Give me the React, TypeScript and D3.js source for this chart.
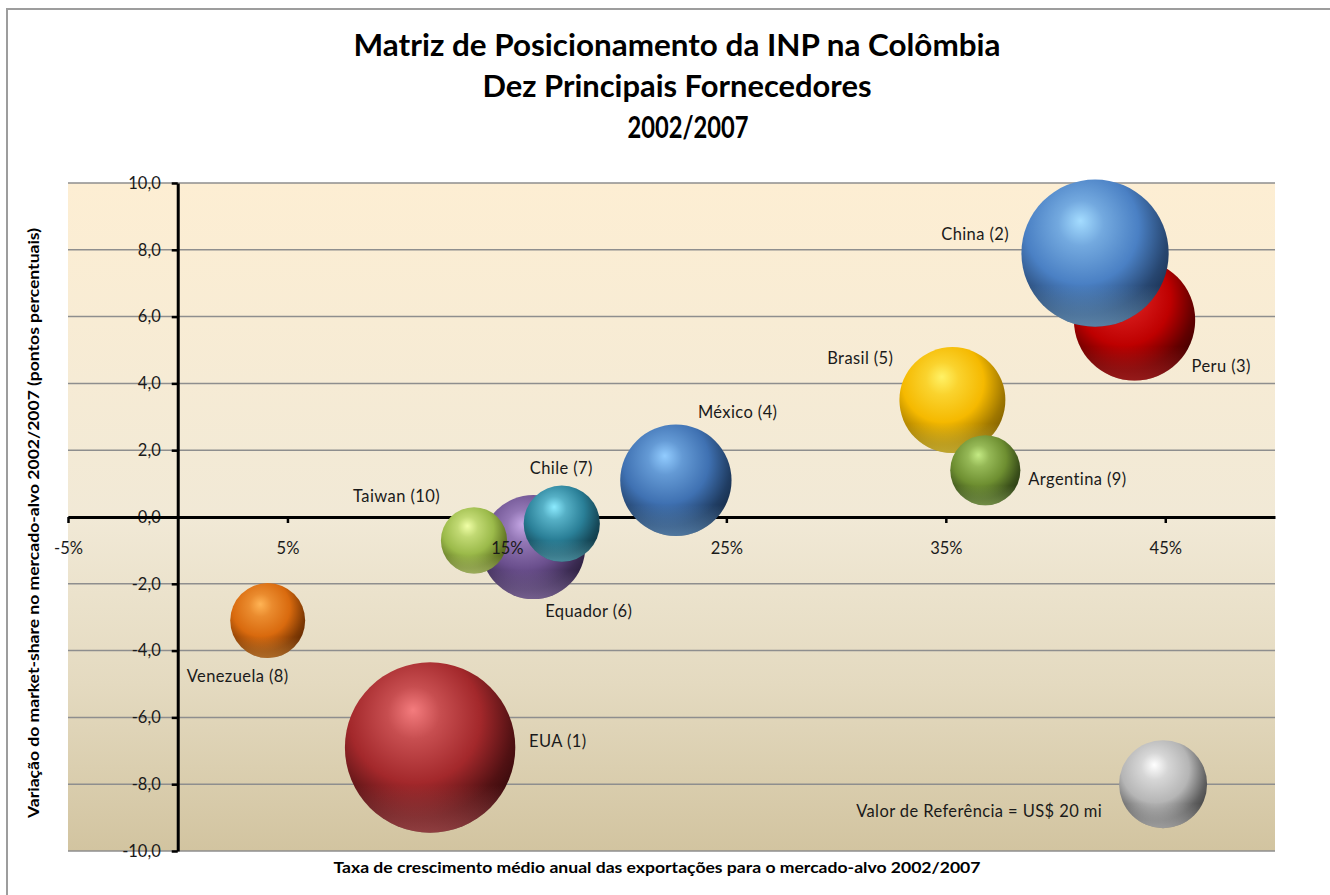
import { useEffect, useRef } from 'react';
import * as d3 from 'd3';

// Data (draw order follows array order)
const countries = ['EUA (1)', 'Peru (3)', 'México (4)', 'Brasil (5)', 'Equador (6)', 'China (2)', 'Chile (7)', 'Venezuela (8)', 'Argentina (9)', 'Taiwan (10)'];
const growthRate = [11.5, 43.6, 22.7, 35.3, 16.2, 41.8, 17.5, 4.1, 36.8, 13.5];
const shareChange = [-6.9, 5.9, 1.1, 3.5, -0.9, 7.9, -0.2, -3.1, 1.4, -0.7];
const exportValue = [75, 38, 32, 29, 28, 56, 15, 14.5, 12.7, 11.3];

const refLabel = 'Valor de Referência = US$ 20 mi';
const refGrowth = 44.9;
const refShare = -8.0;
const refValue = 20;

const xTicks = [-5, 5, 15, 25, 35, 45];
const yTicks = [-10, -8, -6, -4, -2, 0, 2, 4, 6, 8, 10];

const titleLines = ['Matriz de Posicionamento da INP na Colômbia', 'Dez Principais Fornecedores', '2002/2007'];
const xTitle = 'Taxa de crescimento médio anual das exportações para o mercado-alvo 2002/2007';
const yTitle = 'Variação do market-share no mercado-alvo 2002/2007 (pontos percentuais)';

// Styles
const sphereColors = [
  { base: '#A3282B', light: '#F47C7E', dark: '#2E0709' },
  { base: '#BE0000', light: '#F03A3A', dark: '#3A0000' },
  { base: '#3F71B2', light: '#92CCFF', dark: '#132741' },
  { base: '#F5B900', light: '#FFF266', dark: '#7A5A00' },
  { base: '#6A4F8D', light: '#C6A8E6', dark: '#271B38' },
  { base: '#4A80C4', light: '#A4DCFF', dark: '#182D4C' },
  { base: '#2A7F97', light: '#8CEBFF', dark: '#0D323E' },
  { base: '#D96A0E', light: '#FFB455', dark: '#5A2500' },
  { base: '#6E8F31', light: '#C4EA84', dark: '#243410' },
  { base: '#9BBA4A', light: '#F0FFA6', dark: '#4C5C16' }
];
const refColor = { base: '#B5B5B5', light: '#FFFFFF', dark: '#3C3C3C' };

// label offset from bubble centre: [dx, dy, anchor]
const labelOffsets = [
  [99, -6, 'start'],
  [57, 46, 'start'],
  [22, -68, 'start'],
  [-59, -42, 'end'],
  [12, 64, 'start'],
  [-86, -19, 'end'],
  [-32, -55, 'start'],
  [-81, 56, 'start'],
  [43, 9, 'start'],
  [-34, -44, 'end']
];
const refOffset = [-61, 27, 'end'];

const FONT = "Lato, 'Open Sans', sans-serif";

const BubbleChart = () => {
  const svgRef = useRef(null);

  useEffect(() => {
    const svg = d3.select(svgRef.current);
    svg.selectAll('*').remove();

    const width = 1330;
    const height = 895;
    const plot = { left: 68, right: 1275, top: 183, bottom: 851 };

    svg.attr('width', width).attr('height', height);

    const x = d3.scaleLinear().domain([-5, 50]).range([plot.left, plot.right]);
    const y = d3.scaleLinear().domain([-10, 10]).range([plot.bottom, plot.top]);
    const r = d3.scaleSqrt().domain([0, refValue]).range([0, 44]);

    const defs = svg.append('defs');

    // chart background + border
    svg.append('rect').attr('width', width).attr('height', height).attr('fill', '#ffffff');
    svg
      .append('rect')
      .attr('x', 7)
      .attr('y', 9)
      .attr('width', width + 20)
      .attr('height', height + 20)
      .attr('fill', 'none')
      .attr('stroke', '#9d9d9d')
      .attr('stroke-width', 2);

    // plot background gradient
    const bg = defs
      .append('linearGradient')
      .attr('id', 'plot-bg')
      .attr('x1', 0).attr('y1', 0).attr('x2', 0).attr('y2', 1);
    bg.append('stop').attr('offset', '0%').attr('stop-color', '#FDEED3');
    bg.append('stop').attr('offset', '50%').attr('stop-color', '#F1E9D6');
    bg.append('stop').attr('offset', '75%').attr('stop-color', '#E4DAC0');
    bg.append('stop').attr('offset', '100%').attr('stop-color', '#D2C4A0');

    svg
      .append('rect')
      .attr('x', plot.left)
      .attr('y', plot.top)
      .attr('width', plot.right - plot.left)
      .attr('height', plot.bottom - plot.top)
      .attr('fill', 'url(#plot-bg)');

    // Title
    svg
      .append('g')
      .selectAll('text')
      .data(titleLines)
      .enter()
      .append('text')
      .attr('x', (d, i) => (i === 2 ? 688 : 677))
      .attr('y', (d, i) => 56 + i * 41)
      .attr('text-anchor', 'middle')
      .attr('textLength', (d, i) => [647, 389, 121][i])
      .attr('lengthAdjust', 'spacingAndGlyphs')
      .style('font-family', FONT)
      .style('font-weight', 'bold')
      .style('font-size', '31px')
      .style('fill', '#000')
      .text(d => d);

    // Grid lines
    svg
      .append('g')
      .selectAll('line')
      .data(yTicks)
      .enter()
      .append('line')
      .attr('x1', plot.left)
      .attr('x2', plot.right)
      .attr('y1', d => y(d))
      .attr('y2', d => y(d))
      .attr('stroke', '#8e8e8e')
      .attr('stroke-width', 1.5);

    // Y axis (at x = 0%)
    const yAxis = svg
      .append('g')
      .attr('transform', `translate(${x(0)}, 0)`)
      .call(
        d3.axisLeft(y)
          .tickValues(yTicks)
          .tickSize(6)
          .tickSizeOuter(0)
          .tickPadding(11)
          .tickFormat(d => d3.format('.1f')(d).replace('.', ',').replace('−', '-'))
      );
    yAxis.select('.domain').attr('stroke', '#000').attr('stroke-width', 3);
    yAxis.selectAll('.tick line').attr('stroke', '#000').attr('stroke-width', 2.5);
    yAxis
      .selectAll('text')
      .style('font-family', FONT)
      .style('font-size', '16.5px')
      .style('fill', '#1a1a1a');

    // X axis lines (at y = 0), labels drawn later on top of bubbles
    const xAxis = svg
      .append('g')
      .attr('transform', `translate(0, ${y(0)})`)
      .call(d3.axisBottom(x).tickValues(xTicks).tickSize(6).tickSizeOuter(0).tickFormat(''));
    xAxis.select('.domain').attr('stroke', '#000').attr('stroke-width', 3);
    xAxis.selectAll('.tick line').attr('stroke', '#000').attr('stroke-width', 2.5);

    // sphere gradients
    const makeSphere = (id, c) => {
      const g = defs
        .append('radialGradient')
        .attr('id', id)
        .attr('cx', 0.42)
        .attr('cy', 0.36)
        .attr('r', 0.7)
        .attr('fx', 0.4)
        .attr('fy', 0.28);
      g.append('stop').attr('offset', '0%').attr('stop-color', c.light);
      g.append('stop').attr('offset', '22%').attr('stop-color', d3.interpolateRgb(c.light, c.base)(0.55));
      g.append('stop').attr('offset', '55%').attr('stop-color', c.base);
      g.append('stop').attr('offset', '82%').attr('stop-color', d3.interpolateRgb(c.base, c.dark)(0.7));
      g.append('stop').attr('offset', '100%').attr('stop-color', c.dark);

      const rim = defs
        .append('linearGradient')
        .attr('id', id + '-rim')
        .attr('x1', 0).attr('y1', 0).attr('x2', 0).attr('y2', 1);
      rim.append('stop').attr('offset', '72%').attr('stop-color', c.light).attr('stop-opacity', 0);
      rim.append('stop').attr('offset', '100%').attr('stop-color', c.light).attr('stop-opacity', 0.45);
    };

    const bubbles = countries.map((name, i) => ({
      name,
      gx: growthRate[i],
      sy: shareChange[i],
      v: exportValue[i],
      color: sphereColors[i],
      off: labelOffsets[i]
    }));
    bubbles.push({ name: refLabel, gx: refGrowth, sy: refShare, v: refValue, color: refColor, off: refOffset });

    bubbles.forEach((d, i) => makeSphere(`sphere-${i}`, d.color));

    const bubbleG = svg.append('g');
    bubbles.forEach((d, i) => {
      const g = bubbleG.append('g');
      g.append('circle')
        .attr('cx', x(d.gx))
        .attr('cy', y(d.sy))
        .attr('r', r(d.v))
        .attr('fill', `url(#sphere-${i})`);
      g.append('circle')
        .attr('cx', x(d.gx))
        .attr('cy', y(d.sy))
        .attr('r', r(d.v))
        .attr('fill', `url(#sphere-${i}-rim)`);
    });

    // X tick labels (over the bubbles)
    const xLabels = svg
      .append('g')
      .attr('transform', `translate(0, ${y(0)})`)
      .call(d3.axisBottom(x).tickValues(xTicks).tickSize(6).tickPadding(19).tickFormat(d => `${d}%`));
    xLabels.select('.domain').remove();
    xLabels.selectAll('.tick line').remove();
    xLabels
      .selectAll('text')
      .style('font-family', FONT)
      .style('font-size', '16.5px')
      .style('fill', '#1a1a1a');

    // Data labels
    svg
      .append('g')
      .selectAll('text')
      .data(bubbles)
      .enter()
      .append('text')
      .attr('x', d => x(d.gx) + d.off[0])
      .attr('y', d => y(d.sy) + d.off[1])
      .attr('dy', '0.35em')
      .attr('text-anchor', d => d.off[2])
      .style('font-family', FONT)
      .style('font-size', '16.5px')
      .style('letter-spacing', '0.4px')
      .style('fill', '#1a1a1a')
      .text(d => d.name);

    // Axis titles
    svg
      .append('text')
      .attr('x', 657)
      .attr('y', 873)
      .attr('text-anchor', 'middle')
      .attr('textLength', 647)
      .attr('lengthAdjust', 'spacingAndGlyphs')
      .style('font-family', FONT)
      .style('font-weight', 'bold')
      .style('font-size', '15px')
      .style('fill', '#000')
      .text(xTitle);

    svg
      .append('text')
      .attr('transform', 'translate(39, 523) rotate(-90)')
      .attr('text-anchor', 'middle')
      .attr('textLength', 590)
      .attr('lengthAdjust', 'spacingAndGlyphs')
      .style('font-family', FONT)
      .style('font-weight', 'bold')
      .style('font-size', '15px')
      .style('fill', '#000')
      .text(yTitle);
  }, []);

  return <svg ref={svgRef} style={{ position: 'absolute', left: 0, top: 0, display: 'block' }}></svg>;
};

export default function App() {
  return <BubbleChart />;
}
